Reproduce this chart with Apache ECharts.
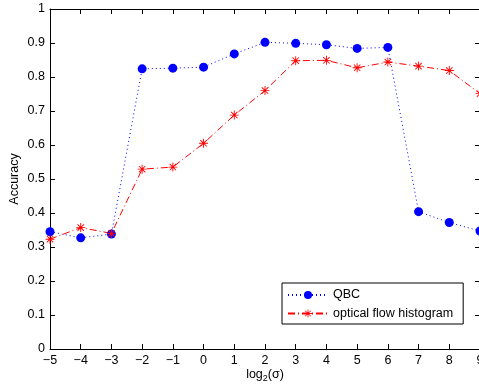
<!DOCTYPE html>
<html>
<head>
<meta charset="utf-8">
<script src="https://cdn.jsdelivr.net/npm/echarts@6/dist/echarts.min.js"></script>
<style>
  html, body { margin: 0; padding: 0; background: #fff; }
  #chart { width: 479px; height: 390px; }
</style>
</head>
<body>
<div id="chart"></div>
<script>
// log2(sigma) sample points
const sigmaLog2 = [-5, -4, -3, -2, -1, 0, 1, 2, 3, 4, 5, 6, 7, 8, 9];
// Accuracy per method
const qbcAccuracy = [0.345, 0.327, 0.338, 0.824, 0.826, 0.829, 0.868, 0.902, 0.899, 0.895, 0.884, 0.887, 0.404, 0.372, 0.347];
const flowHistAccuracy = [0.323, 0.357, 0.340, 0.529, 0.535, 0.605, 0.688, 0.760, 0.848, 0.849, 0.827, 0.844, 0.832, 0.819, 0.751];
const yTicks = [0, 0.1, 0.2, 0.3, 0.4, 0.5, 0.6, 0.7, 0.8, 0.9, 1];

const FONT = 'Liberation Sans, Arial, sans-serif';
const FS = 12.5;
const asterisk = 'path://M0 9L20 9L20 11L0 11Z M9 0L11 0L11 20L9 20Z M2.2 3.6L3.6 2.2L17.8 16.4L16.4 17.8Z M16.4 2.2L17.8 3.6L3.6 17.8L2.2 16.4Z';

const pairs = (ys) => sigmaLog2.map((x, i) => [x, ys[i]]);
const minus = (v) => String(v).replace('-', '\u2212');

const axisLine = { show: true, onZero: false, lineStyle: { color: '#000', width: 1 } };
const tickStyle = { show: true, inside: true, length: 5, lineStyle: { color: '#000', width: 1 } };

const chart = echarts.init(document.getElementById('chart'), null, { renderer: 'canvas' });
chart.setOption({
  animation: false,
  backgroundColor: '#fff',
  textStyle: { fontFamily: FONT },
  grid: { left: 50, right: -1, top: 9, bottom: 41, containLabel: false, outerBoundsMode: 'none' },
  xAxis: [
    {
      type: 'value', min: -5, max: 9, interval: 1, position: 'bottom',
      axisLine: axisLine, axisTick: tickStyle, splitLine: { show: false },
      axisLabel: { color: '#000', fontSize: FS, fontFamily: FONT, margin: 5, formatter: minus },
      name: '{a|log}{s|2}{a|(σ)}', nameLocation: 'middle', nameGap: 18, nameMoveOverlap: false,
      nameTextStyle: {
        rich: {
          a: { fontSize: FS, fontFamily: FONT, color: '#000' },
          s: { fontSize: 9, fontFamily: FONT, color: '#000', padding: [7, 0, 0, 0] }
        }
      }
    },
    {
      type: 'value', min: -5, max: 9, interval: 1, position: 'top',
      axisLine: axisLine, axisTick: tickStyle, axisLabel: { show: false }, splitLine: { show: false }
    }
  ],
  yAxis: [
    {
      type: 'value', min: 0, max: 1, interval: 0.1, position: 'left',
      axisLine: axisLine, axisTick: tickStyle, splitLine: { show: false },
      axisLabel: {
        color: '#000', fontSize: FS, fontFamily: FONT, margin: 5,
        formatter: (v) => { const t = yTicks.find(k => Math.abs(k - v) < 1e-9); return String(t !== undefined ? t : v); }
      },
      name: 'Accuracy', nameLocation: 'middle', nameRotate: 90, nameGap: 29, nameMoveOverlap: false,
      nameTextStyle: { color: '#000', fontSize: FS, fontFamily: FONT }
    },
    {
      type: 'value', min: 0, max: 1, interval: 0.1, position: 'right',
      axisLine: axisLine, axisTick: tickStyle, axisLabel: { show: false }, splitLine: { show: false }
    }
  ],
  legend: {
    orient: 'vertical', left: 282, top: 283,
    padding: [5.5, 10, 4, 5], itemGap: 5.5, itemWidth: 40, itemHeight: 10,
    backgroundColor: '#fff', borderColor: '#000', borderWidth: 1, borderRadius: 0,
    textStyle: { color: '#000', fontSize: FS, fontFamily: FONT },
    data: ['QBC', 'optical flow histogram']
  },
  series: [
    {
      name: 'QBC', type: 'line', data: pairs(qbcAccuracy),
      symbol: 'circle', symbolSize: 9,
      itemStyle: { color: '#0000ff' },
      lineStyle: { color: '#0000ff', width: 1, type: [1, 3] }
    },
    {
      name: 'optical flow histogram', type: 'line', data: pairs(flowHistAccuracy),
      symbol: asterisk, symbolSize: 9,
      itemStyle: { color: '#ff0000' },
      lineStyle: { color: '#ff0000', width: 1, type: [7, 3, 1, 3] }
    }
  ]
});
</script>
</body>
</html>
